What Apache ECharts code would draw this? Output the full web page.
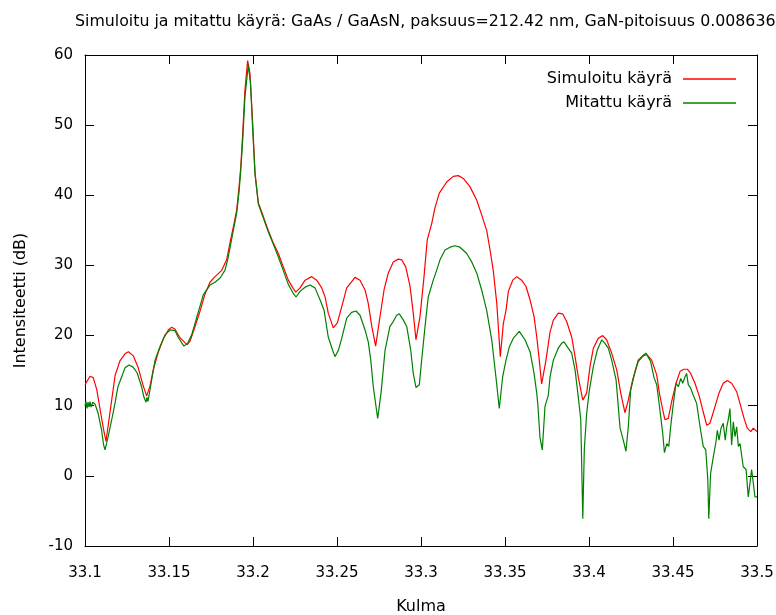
<!DOCTYPE html>
<html>
<head>
<meta charset="utf-8">
<script src="https://cdn.jsdelivr.net/npm/echarts@6/dist/echarts.min.js"></script>
<style>html,body{margin:0;padding:0;background:#fff}#c{width:776px;height:615px}</style>
</head>
<body>
<div id="c"></div>
<script>
const titleText = 'Simuloitu ja mitattu käyrä: GaAs / GaAsN, paksuus=212.42 nm, GaN-pitoisuus 0.008636';
const xName = 'Kulma';
const yName = 'Intensiteetti (dB)';
const seriesNames = ['Simuloitu käyrä', 'Mitattu käyrä'];

const simX = [33.1000,33.1030,33.1049,33.1070,33.1089,33.1109,33.1125,33.1149,33.1179,33.1208,33.1238,33.1258,33.1288,33.1317,33.1347,33.1367,33.1387,33.1407,33.1436,33.1466,33.1496,33.1516,33.1536,33.1565,33.1595,33.1609,33.1625,33.1655,33.1685,33.1714,33.1744,33.1774,33.1814,33.1843,33.1863,33.1883,33.1903,33.1917,33.1927,33.1939,33.1952,33.1968,33.1982,33.1998,33.2012,33.2032,33.2061,33.2091,33.2121,33.2151,33.2180,33.2210,33.2240,33.2255,33.2280,33.2310,33.2349,33.2379,33.2409,33.2429,33.2448,33.2478,33.2502,33.2528,33.2558,33.2582,33.2607,33.2637,33.2667,33.2686,33.2707,33.2730,33.2756,33.2780,33.2805,33.2835,33.2865,33.2885,33.2909,33.2935,33.2954,33.2970,33.2994,33.3018,33.3037,33.3064,33.3083,33.3109,33.3153,33.3192,33.3222,33.3252,33.3292,33.3332,33.3361,33.3391,33.3411,33.3430,33.3451,33.3472,33.3490,33.3506,33.3520,33.3546,33.3570,33.3599,33.3625,33.3649,33.3673,33.3689,33.3704,33.3718,33.3728,33.3744,33.3768,33.3788,33.3817,33.3843,33.3867,33.3897,33.3917,33.3936,33.3963,33.3986,33.4006,33.4026,33.4055,33.4082,33.4105,33.4135,33.4165,33.4189,33.4214,33.4234,33.4260,33.4293,33.4323,33.4343,33.4373,33.4403,33.4419,33.4439,33.4452,33.4472,33.4492,33.4518,33.4542,33.4565,33.4585,33.4605,33.4631,33.4657,33.4680,33.4701,33.4720,33.4744,33.4774,33.4799,33.4823,33.4849,33.4879,33.4899,33.4923,33.4942,33.4963,33.4978,33.5000];
const simY = [13.0,14.2,14.0,12.3,9.6,6.8,4.9,9.1,14.3,16.4,17.4,17.7,17.1,15.4,12.8,11.4,12.8,15.2,17.6,19.5,20.8,21.2,20.9,19.7,19.0,18.7,19.2,21.3,23.5,25.9,27.6,28.4,29.3,30.8,33.2,35.5,37.9,41.2,44.0,48.9,55.0,59.2,57.4,50.3,43.2,38.9,37.0,35.0,33.2,31.7,29.8,27.9,26.7,26.2,26.8,27.9,28.4,27.9,26.8,25.5,23.2,21.1,21.8,24.1,26.8,27.5,28.3,27.9,26.5,24.6,21.3,18.5,22.7,26.5,28.9,30.5,30.9,30.8,29.8,27.0,23.2,19.4,22.7,28.4,33.6,36.0,38.2,40.3,41.9,42.7,42.8,42.4,41.2,39.3,37.2,35.0,32.2,29.3,24.6,17.0,21.7,23.6,26.3,27.9,28.4,27.9,27.0,25.1,22.7,19.8,16.5,13.1,13.0,16.5,20.5,22.2,23.2,23.1,22.0,19.8,17.0,14.1,10.8,11.8,15.6,18.2,19.6,20.0,19.4,17.5,15.1,11.8,9.0,10.8,13.7,16.3,17.1,17.3,16.5,14.4,11.8,9.4,8.0,8.2,10.6,13.2,14.9,15.2,15.2,14.6,13.2,11.3,9.1,7.2,7.5,9.4,11.8,13.2,13.6,13.2,12.0,10.3,8.2,6.8,6.3,6.8,6.3];

const measX = [33.1000,33.1006,33.1012,33.1018,33.1024,33.1030,33.1036,33.1046,33.1060,33.1077,33.1099,33.1110,33.1119,33.1128,33.1137,33.1159,33.1179,33.1196,33.1218,33.1238,33.1262,33.1286,33.1310,33.1337,33.1351,33.1363,33.1369,33.1375,33.1397,33.1417,33.1446,33.1476,33.1506,33.1536,33.1554,33.1575,33.1589,33.1613,33.1635,33.1665,33.1704,33.1744,33.1774,33.1804,33.1833,33.1851,33.1883,33.1903,33.1917,33.1927,33.1939,33.1952,33.1972,33.1985,33.1998,33.2012,33.2032,33.2061,33.2091,33.2121,33.2151,33.2180,33.2210,33.2240,33.2256,33.2280,33.2310,33.2339,33.2369,33.2399,33.2423,33.2448,33.2474,33.2488,33.2508,33.2528,33.2558,33.2587,33.2613,33.2637,33.2667,33.2686,33.2701,33.2716,33.2742,33.2762,33.2786,33.2815,33.2835,33.2855,33.2871,33.2895,33.2915,33.2939,33.2954,33.2970,33.2990,33.3004,33.3024,33.3043,33.3073,33.3093,33.3113,33.3143,33.3173,33.3202,33.3232,33.3272,33.3302,33.3332,33.3361,33.3391,33.3421,33.3446,33.3466,33.3486,33.3506,33.3526,33.3549,33.3585,33.3619,33.3649,33.3673,33.3689,33.3696,33.3708,33.3722,33.3738,33.3758,33.3768,33.3788,33.3817,33.3837,33.3851,33.3871,33.3897,33.3917,33.3936,33.3951,33.3963,33.3972,33.3986,33.4002,33.4026,33.4049,33.4076,33.4095,33.4115,33.4135,33.4161,33.4185,33.4204,33.4220,33.4234,33.4248,33.4274,33.4293,33.4323,33.4339,33.4367,33.4387,33.4403,33.4419,33.4427,33.4439,33.4449,33.4463,33.4475,33.4486,33.4502,33.4518,33.4532,33.4546,33.4558,33.4571,33.4581,33.4591,33.4605,33.4621,33.4641,33.4661,33.4680,33.4695,33.4707,33.4713,33.4724,33.4740,33.4756,33.4764,33.4774,33.4786,33.4799,33.4811,33.4820,33.4829,33.4839,33.4849,33.4859,33.4869,33.4879,33.4889,33.4899,33.4918,33.4935,33.4948,33.4958,33.4968,33.4978,33.4988,33.5000];
const measY = [10.0,10.6,9.6,10.5,9.8,10.6,9.8,10.5,10.2,9.0,6.5,4.5,3.7,4.6,5.5,8.0,10.4,12.7,14.1,15.4,15.8,15.5,14.7,12.7,11.2,10.5,11.2,10.6,13.7,16.5,18.4,20.1,20.8,20.7,19.8,19.0,18.5,19.0,20.1,22.6,25.8,27.2,27.6,28.2,29.3,31.0,35.0,37.5,40.5,43.5,48.0,54.0,58.6,56.0,49.5,43.0,38.7,36.8,34.8,33.0,31.2,29.3,27.3,26.0,25.5,26.3,26.9,27.2,26.8,25.1,23.6,19.8,17.9,17.0,17.9,19.6,22.5,23.3,23.5,22.9,20.8,19.1,16.5,12.7,8.2,11.8,17.9,21.3,22.0,22.9,23.1,22.2,21.3,17.9,14.6,12.6,13.0,16.5,21.3,25.5,27.9,29.3,30.8,32.2,32.6,32.8,32.6,31.7,30.5,28.9,26.5,23.6,19.4,14.1,9.6,14.1,16.5,18.4,19.6,20.6,19.4,17.7,14.6,11.8,10.0,5.5,3.7,9.9,11.5,14.1,16.5,18.2,18.9,19.1,18.4,17.5,15.1,11.3,8.0,-6.1,3.7,8.9,12.2,15.6,17.9,19.4,18.9,18.2,16.5,13.7,6.8,5.1,3.5,7.0,12.2,14.9,16.5,17.2,17.5,16.3,14.0,13.0,10.0,8.4,6.0,3.3,4.6,4.2,7.0,10.3,13.2,12.7,13.9,13.2,14.1,14.6,13.0,12.5,11.5,10.3,7.0,4.2,3.7,-0.5,-6.1,0.4,2.7,4.9,6.5,5.1,6.8,7.5,5.1,7.0,8.0,9.6,4.4,7.7,5.6,7.0,4.2,4.6,1.3,0.9,-3.0,-3.0,0.9,0.8,-3.0,-3.0];

const xMin = 33.1, xMax = 33.5, xStep = 0.05;
const yMin = -10, yMax = 60, yStep = 10;

const FONT = 'DejaVu Sans';
const chart = echarts.init(document.getElementById('c'), null, {renderer: 'canvas'});
const axisLineStyle = {show: true, onZero: false, lineStyle: {color: '#000', width: 1}};
const tickStyle = {show: true, inside: true, length: 9, lineStyle: {color: '#000', width: 1}};
const fmtX = v => String(parseFloat(v.toFixed(2)));

chart.setOption({
  animation: false,
  backgroundColor: '#fff',
  title: {
    text: titleText, left: 70, top: 9,
    textStyle: {fontFamily: FONT, fontSize: 15.8, fontWeight: 'normal', color: '#000'}
  },
  legend: {
    orient: 'vertical', right: 35, top: 66, align: 'right',
    icon: 'rect', itemWidth: 53, itemHeight: 1.5, itemGap: 8,
    textStyle: {fontFamily: FONT, fontSize: 16, color: '#000', padding: [0, 6, 0, 0]},
    data: seriesNames
  },
  grid: {left: 85, right: 19, top: 55, bottom: 69, containLabel: false, outerBoundsMode: 'none'},
  xAxis: [{
    type: 'value', min: xMin, max: xMax, interval: xStep,
    name: xName, nameLocation: 'middle', nameGap: 53,
    nameTextStyle: {fontFamily: FONT, fontSize: 16, color: '#000'},
    axisLine: axisLineStyle, axisTick: tickStyle, splitLine: {show: false},
    axisLabel: {fontFamily: FONT, fontSize: 15, color: '#000', margin: 20, formatter: fmtX}
  }, {
    type: 'value', position: 'top', min: xMin, max: xMax, interval: xStep,
    axisLine: axisLineStyle, axisTick: tickStyle, splitLine: {show: false},
    axisLabel: {show: false}
  }],
  yAxis: [{
    type: 'value', min: yMin, max: yMax, interval: yStep,
    name: yName, nameLocation: 'middle', nameGap: 56, nameRotate: 90,
    nameTextStyle: {fontFamily: FONT, fontSize: 16, color: '#000'},
    axisLine: axisLineStyle, axisTick: tickStyle, splitLine: {show: false},
    axisLabel: {fontFamily: FONT, fontSize: 15, color: '#000', margin: 12}
  }, {
    type: 'value', position: 'right', min: yMin, max: yMax, interval: yStep,
    axisLine: axisLineStyle, axisTick: tickStyle, splitLine: {show: false},
    axisLabel: {show: false}
  }],
  series: [{
    name: seriesNames[0], type: 'line', symbol: 'none', xAxisIndex: 0, yAxisIndex: 0,
    lineStyle: {color: '#ff0000', width: 1.2}, itemStyle: {color: '#ff0000'},
    data: simX.map((x, i) => [x, simY[i]])
  }, {
    name: seriesNames[1], type: 'line', symbol: 'none', xAxisIndex: 0, yAxisIndex: 0,
    lineStyle: {color: '#008000', width: 1.2}, itemStyle: {color: '#008000'},
    data: measX.map((x, i) => [x, measY[i]])
  }]
});
</script>
</body>
</html>
